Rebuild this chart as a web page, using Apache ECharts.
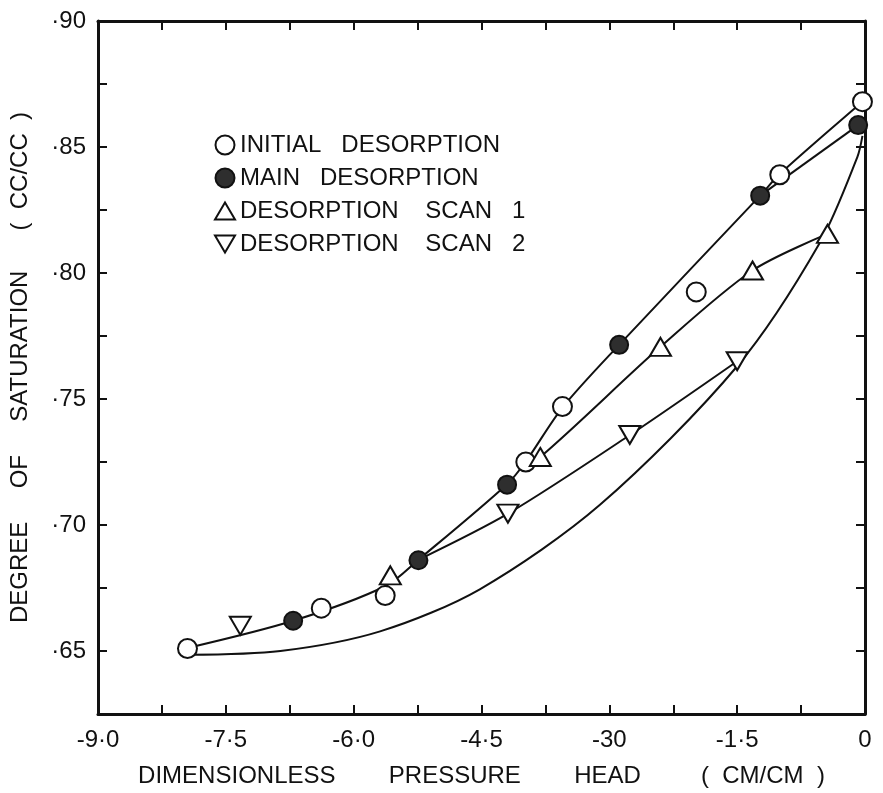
<!DOCTYPE html>
<html>
<head>
<meta charset="utf-8">
<title>Degree of saturation vs pressure head</title>
<script src="https://cdn.jsdelivr.net/npm/echarts@6/dist/echarts.min.js"></script>
<style>
  html, body { margin: 0; padding: 0; background: #fff; }
  #chart { width: 883px; height: 793px; }
</style>
</head>
<body>
<div id="chart"></div>
<script>
  // tick labels
  var xLabelValues = [-9, -7.5, -6, -4.5, -3, -1.5, 0];
  var xLabelTexts = ['-9·0', '-7·5', '-6·0', '-4·5', '-30', '-1·5', '0'];
  var yLabelValues = [0.65, 0.70, 0.75, 0.80, 0.85, 0.90];
  var yLabelTexts = ['·65', '·70', '·75', '·80', '·85', '·90'];

  // measured points
  var initialX = [-7.95, -6.38, -5.63, -3.98, -3.55, -1.98, -1.0, -0.03];
  var initialY = [0.651, 0.667, 0.672, 0.725, 0.747, 0.7925, 0.839, 0.868];
  var mainX = [-6.71, -5.24, -4.20, -2.885, -1.23, -0.08];
  var mainY = [0.662, 0.686, 0.716, 0.7715, 0.8307, 0.8587];
  var scan1X = [-5.57, -3.81, -2.40, -1.32, -0.44];
  var scan1Y = [0.680, 0.727, 0.7707, 0.801, 0.8155];
  var scan2X = [-7.33, -4.19, -2.76, -1.50];
  var scan2Y = [0.660, 0.7045, 0.7357, 0.765];

  // hand drawn curves
  var upperCurveX = [-7.95, -6.71, -5.63, -5.24, -4.20, -3.98, -3.55, -2.885, -1.23, -1.0, -0.03];
  var upperCurveY = [0.6512, 0.662, 0.6757, 0.6862, 0.7162, 0.7252, 0.7466, 0.7715, 0.8307, 0.8393, 0.868];
  var mainTopX = [-1.23, -0.08];
  var mainTopY = [0.8307, 0.8587];
  var lowerCurveX = [-7.95, -6.86, -5.69, -4.52, -3.11, -1.50, -0.53, -0.09, -0.03];
  var lowerCurveY = [0.6485, 0.650, 0.6578, 0.6745, 0.708, 0.763, 0.812, 0.846, 0.8544];
  var scan1CurveX = [-0.44, -1.32, -2.40, -3.81, -3.98];
  var scan1CurveY = [0.8155, 0.801, 0.7707, 0.727, 0.7252];
  var scan2CurveX = [-1.50, -2.76, -4.19, -5.24];
  var scan2CurveY = [0.765, 0.7357, 0.7045, 0.6862];

  var FONT = '"Liberation Sans", Arial, sans-serif';
  var INK = '#111';
  var triUp = 'path://M10,0L20,17L0,17Z';
  var triDown = 'path://M0,0L20,0L10,17Z';

  function pairs(xs, ys) {
    return xs.map(function (x, i) { return [x, ys[i]]; });
  }

  function pickLabel(values, texts) {
    return function (v) {
      for (var i = 0; i < values.length; i++) {
        if (Math.abs(values[i] - v) < 1e-6) return texts[i];
      }
      return '';
    };
  }

  function curve(name, xs, ys) {
    return {
      name: name,
      type: 'line',
      data: pairs(xs, ys),
      smooth: 0.3,
      showSymbol: false,
      symbol: 'none',
      silent: true,
      z: 2,
      lineStyle: { color: INK, width: 2 }
    };
  }

  function points(name, xs, ys, symbol, size, fill) {
    return {
      name: name,
      type: 'scatter',
      data: pairs(xs, ys),
      symbol: symbol,
      symbolSize: size,
      z: 5,
      itemStyle: { color: fill, borderColor: INK, borderWidth: 2, opacity: 1 }
    };
  }

  var axisLine = { show: true, onZero: false, lineStyle: { color: INK, width: 3 } };
  var tick = { show: true, inside: true, length: 9, lineStyle: { color: INK, width: 2 } };

  var chart = echarts.init(document.getElementById('chart'), null, { renderer: 'canvas' });
  chart.setOption({
    animation: false,
    backgroundColor: '#fff',
    grid: { left: 98, right: 18, top: 21, bottom: 69, containLabel: false },
    legend: {
      orient: 'vertical',
      left: 214,
      top: 133,
      itemWidth: 20,
      itemHeight: 19,
      itemGap: 9,
      padding: 0,
      selectedMode: false,
      data: ['INITIAL   DESORPTION', 'MAIN   DESORPTION', 'DESORPTION    SCAN   1', 'DESORPTION    SCAN   2'],
      textStyle: { fontFamily: FONT, fontSize: 24, color: INK }
    },
    xAxis: [{
      type: 'value',
      position: 'bottom',
      min: -9,
      max: 0,
      interval: 0.75,
      name: 'DIMENSIONLESS        PRESSURE        HEAD         (  CM/CM  )',
      nameLocation: 'middle',
      nameGap: 50,
      nameTextStyle: { fontFamily: FONT, fontSize: 24, color: INK },
      axisLine: axisLine,
      axisTick: tick,
      splitLine: { show: false },
      axisLabel: {
        margin: 14,
        fontFamily: FONT,
        fontSize: 24,
        color: INK,
        formatter: pickLabel(xLabelValues, xLabelTexts)
      }
    }, {
      type: 'value',
      position: 'top',
      min: -9,
      max: 0,
      interval: 0.75,
      axisLine: axisLine,
      axisTick: tick,
      splitLine: { show: false },
      axisLabel: { show: false }
    }],
    yAxis: [{
      type: 'value',
      position: 'left',
      min: 0.625,
      max: 0.9,
      interval: 0.025,
      name: 'DEGREE     OF     SATURATION      (  CC/CC  )',
      nameLocation: 'middle',
      nameGap: 66,
      nameTextStyle: { fontFamily: FONT, fontSize: 24, color: INK },
      axisLine: axisLine,
      axisTick: tick,
      splitLine: { show: false },
      axisLabel: {
        margin: 12,
        fontFamily: FONT,
        fontSize: 24,
        color: INK,
        formatter: pickLabel(yLabelValues, yLabelTexts)
      }
    }, {
      type: 'value',
      position: 'right',
      min: 0.625,
      max: 0.9,
      interval: 0.025,
      axisLine: axisLine,
      axisTick: tick,
      splitLine: { show: false },
      axisLabel: { show: false }
    }],
    series: [
      curve('upper', upperCurveX, upperCurveY),
      curve('mainTop', mainTopX, mainTopY),
      curve('lower', lowerCurveX, lowerCurveY),
      curve('scan1Line', scan1CurveX, scan1CurveY),
      curve('scan2Line', scan2CurveX, scan2CurveY),
      points('INITIAL   DESORPTION', initialX, initialY, 'circle', 19, '#fff'),
      points('MAIN   DESORPTION', mainX, mainY, 'circle', 18, '#2e2e2e'),
      points('DESORPTION    SCAN   1', scan1X, scan1Y, triUp, [21, 18], '#fff'),
      points('DESORPTION    SCAN   2', scan2X, scan2Y, triDown, [21, 18], '#fff')
    ]
  });

  window.addEventListener('resize', function () {
    chart.resize();
  });
</script>
</body>
</html>
